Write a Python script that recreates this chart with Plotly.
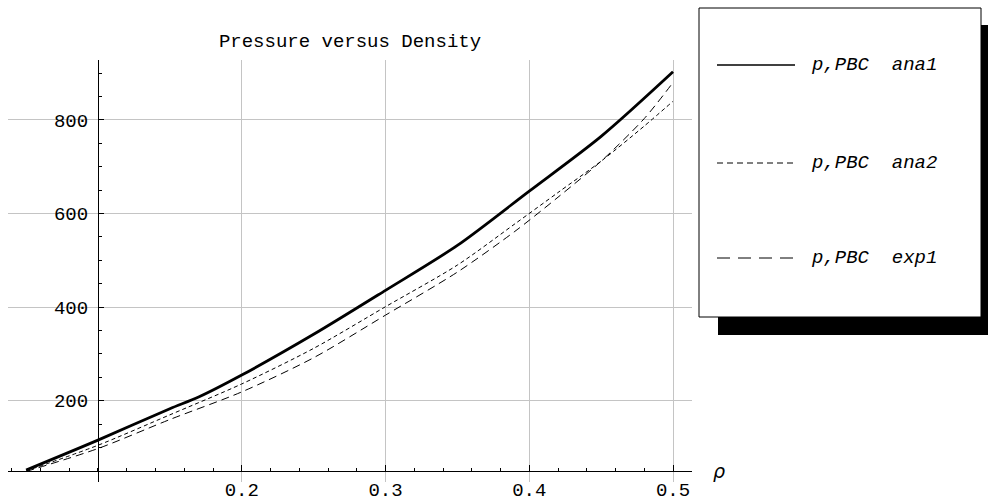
import plotly.graph_objects as go

# ---- data ----
rho_ana1 = [0.05, 0.10, 0.15, 0.17, 0.20, 0.25, 0.30, 0.35, 0.40, 0.45, 0.50]
p_ana1 = [52, 116, 183, 208, 255, 342, 436, 532, 648, 765, 903]

rho_ana2 = [0.05, 0.10, 0.15, 0.20, 0.25, 0.30, 0.35, 0.39, 0.42, 0.45, 0.48, 0.50]
p_ana2 = [50, 105, 170, 236, 312, 401, 490, 578, 645, 712, 787, 840]

rho_exp1 = [0.05, 0.10, 0.15, 0.20, 0.25, 0.30, 0.35, 0.39, 0.42, 0.45, 0.48, 0.50]
p_exp1 = [49, 98, 160, 219, 292, 383, 475, 562, 635, 712, 803, 880]

series_names = ["p,PBC  ana1", "p,PBC  ana2", "p,PBC  exp1"]
x_ticks = [0.2, 0.3, 0.4, 0.5]
x_ticktext = ["0.2", "0.3", "0.4", "0.5"]
y_ticks = [200, 400, 600, 800]
y_ticktext = ["200", "400", "600", "800"]
title_text = "Pressure versus Density"
x_label = "ρ"

# ---- layout constants (reference pixel geometry) ----
W, H = 988, 501
PL, PR, PT, PB = 8, 692, 60, 482     # plot box in pixels
X_RANGE = [0.0374, 0.5132]
Y_RANGE = [26.5, 928.1]
ORIGIN = (0.1, 50)
MONO = "Liberation Mono, Courier New, monospace"
GRID = "#c4c4c4"

pw = PR - PL
ph = PB - PT


def fx(px):
    return (px - PL) / pw


def fy(py):
    return (PB - py) / ph


pos_x_axis = (ORIGIN[1] - Y_RANGE[0]) / (Y_RANGE[1] - Y_RANGE[0])
pos_y_axis = (ORIGIN[0] - X_RANGE[0]) / (X_RANGE[1] - X_RANGE[0])

styles = [
    dict(dash="solid", width=2.8),
    dict(dash="4px,3px", width=1),
    dict(dash="8px,5px", width=1),
]
legend_styles = [
    dict(dash="solid", width=1.5),
    dict(dash="6px,4px", width=1),
    dict(dash="13px,8px", width=1),
]

fig = go.Figure()
for xs, ys, name, st in zip([rho_ana1, rho_ana2, rho_exp1],
                            [p_ana1, p_ana2, p_exp1], series_names, styles):
    fig.add_trace(go.Scatter(x=xs, y=ys, mode="lines", name=name,
                             line=dict(color="black", shape="spline",
                                       smoothing=0.8, **st),
                             showlegend=False))

shapes = []
annotations = []

# legend shadow and box
shapes.append(dict(type="rect", xref="paper", yref="paper",
                   x0=fx(718), x1=fx(988), y0=fy(335), y1=fy(25),
                   fillcolor="black", line=dict(width=0), layer="above"))
shapes.append(dict(type="rect", xref="paper", yref="paper",
                   x0=fx(699), x1=fx(981), y0=fy(317), y1=fy(8),
                   fillcolor="white", line=dict(color="black", width=1),
                   layer="above"))
legend_rows = [65, 163, 258]
for name, st, row in zip(series_names, legend_styles, legend_rows):
    shapes.append(dict(type="line", xref="paper", yref="paper",
                       x0=fx(717), x1=fx(795), y0=fy(row), y1=fy(row),
                       line=dict(color="black", **st), layer="above"))
    annotations.append(dict(xref="paper", yref="paper", x=fx(809), y=fy(row),
                            text="<i>" + name + "</i>", showarrow=False,
                            xanchor="left", yanchor="middle",
                            font=dict(family=MONO, size=19, color="black")))

annotations.append(dict(xref="paper", yref="y", x=fx(719), y=ORIGIN[1],
                        text="<i>" + x_label + "</i>", showarrow=False,
                        xanchor="center", yanchor="middle",
                        font=dict(family="DejaVu Sans", size=19, color="black")))

fig.update_layout(
    width=W, height=H, autosize=False,
    margin=dict(l=PL, r=W - PR, t=PT, b=H - PB, pad=0, autoexpand=False),
    paper_bgcolor="white", plot_bgcolor="white",
    showlegend=False,
    title=dict(text=title_text, x=0.5, xref="paper", xanchor="center",
               y=1 - 40 / H, yref="container", yanchor="middle",
               font=dict(family=MONO, size=19, color="black")),
    xaxis=dict(range=X_RANGE, anchor="free", position=pos_x_axis,
               automargin=False,
               showline=True, linecolor="black", linewidth=1,
               ticks="inside", ticklen=6, tickwidth=1, tickcolor="black",
               tickvals=x_ticks, ticktext=x_ticktext,
               showgrid=True, gridcolor=GRID, gridwidth=1,
               zeroline=False, ticklabelstandoff=1,
               tickfont=dict(family=MONO, size=19, color="black"),
               minor=dict(tick0=0, dtick=0.02, ticks="inside", ticklen=3,
                          tickwidth=1, tickcolor="black", showgrid=False)),
    yaxis=dict(range=Y_RANGE, anchor="free", position=pos_y_axis,
               automargin=False,
               showline=True, linecolor="black", linewidth=1,
               ticks="inside", ticklen=5, tickwidth=1, tickcolor="black",
               tickvals=y_ticks, ticktext=y_ticktext,
               showgrid=True, gridcolor=GRID, gridwidth=1,
               zeroline=False, ticklabelstandoff=6,
               tickfont=dict(family=MONO, size=19, color="black"),
               minor=dict(tick0=0, dtick=50, ticks="inside", ticklen=3,
                          tickwidth=1, tickcolor="black", showgrid=False)),
    shapes=shapes,
    annotations=annotations,
)

# remove the default 8px page margin synchronously
page_css = ("});document.documentElement.style.margin='0';"
            "document.body.style.margin='0';"
            "document.body.style.overflow='hidden';(function(){")

fig.write_html(
    "out.html",
    config={"displayModeBar": False, "responsive": False},
    post_script=page_css,
)
